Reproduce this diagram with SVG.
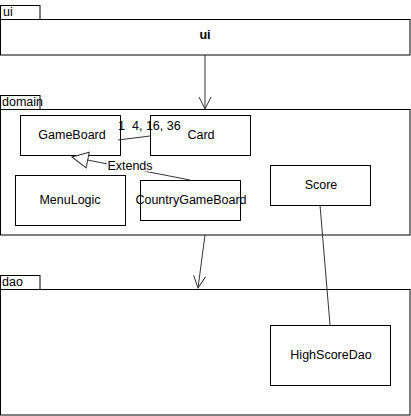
<svg xmlns="http://www.w3.org/2000/svg" width="411" height="416" viewBox="0 0 411 416">
<style>
.box{fill:#fff;stroke:#000;stroke-width:1}
.t{font-family:"Liberation Sans",Arial,sans-serif;font-size:12.5px;fill:#000}
.c{text-anchor:middle}
.ln{stroke:#333;stroke-width:1;fill:none}
</style>
<defs>
<marker id="open" viewBox="0 0 14 14" markerWidth="14" markerHeight="14" refX="13" refY="7" orient="auto" markerUnits="userSpaceOnUse">
<path d="M1,1 L13,7 L1,13" fill="none" stroke="#333" stroke-width="1"/>
</marker>
<marker id="tri" viewBox="0 0 20 20" markerWidth="20" markerHeight="20" refX="19" refY="10" orient="auto" markerUnits="userSpaceOnUse">
<path d="M19,10 L3,2 L3,18 Z" fill="#fff" stroke="#333" stroke-width="1"/>
</marker>
</defs>
<g id="pkg-ui">
<rect class="box" x="0.5" y="5.5" width="39.5" height="14"/>
<text class="t" x="3" y="16">ui</text>
<rect class="box" x="0.5" y="19.5" width="409.5" height="35.5"/>
<text class="t c" x="205" y="39" font-weight="bold">ui</text>
</g>
<g id="pkg-domain">
<rect class="box" x="0.5" y="95.5" width="39.5" height="14"/>
<text class="t" x="2" y="106">domain</text>
<rect class="box" x="0.5" y="109.5" width="409.5" height="125.5"/>
</g>
<g id="pkg-dao">
<rect class="box" x="0.5" y="275.5" width="39.5" height="14"/>
<text class="t" x="2" y="286">dao</text>
<rect class="box" x="0.5" y="289.5" width="409.5" height="125.5"/>
</g>
<g id="GameBoard">
<rect class="box" x="20.5" y="115.5" width="100" height="40"/>
<text class="t c" x="72" y="139">GameBoard</text>
</g>
<g id="Card">
<rect class="box" x="150.5" y="115.5" width="100" height="40"/>
<text class="t c" x="201" y="139">Card</text>
</g>
<g id="MenuLogic">
<rect class="box" x="15.5" y="175.5" width="110" height="50"/>
<text class="t c" x="70" y="204">MenuLogic</text>
</g>
<g id="CountryGameBoard">
<rect class="box" x="140.5" y="180.5" width="100" height="40"/>
<text class="t c" x="191" y="204">CountryGameBoard</text>
</g>
<g id="Score">
<rect class="box" x="270.5" y="165.5" width="100" height="40"/>
<text class="t c" x="321" y="189">Score</text>
</g>
<g id="HighScoreDao">
<rect class="box" x="270.5" y="325.5" width="120" height="60"/>
<text class="t c" x="331" y="359">HighScoreDao</text>
</g>
<g id="connectors">
<line class="ln" x1="205" y1="55" x2="205" y2="109" marker-end="url(#open)"/>
<line class="ln" x1="205" y1="235" x2="198" y2="288" marker-end="url(#open)"/>
<line class="ln" x1="118" y1="140" x2="150" y2="136"/>
<text class="t" x="118" y="130">1</text>
<text class="t" x="132" y="130">4, 16, 36</text>
<line class="ln" x1="190" y1="180" x2="72" y2="157" marker-end="url(#tri)"/>
<text class="t c" x="130" y="170" style="paint-order:stroke" stroke="#fff" stroke-width="3">Extends</text>
<line class="ln" x1="320" y1="205" x2="330" y2="325"/>
</g>
</svg>
